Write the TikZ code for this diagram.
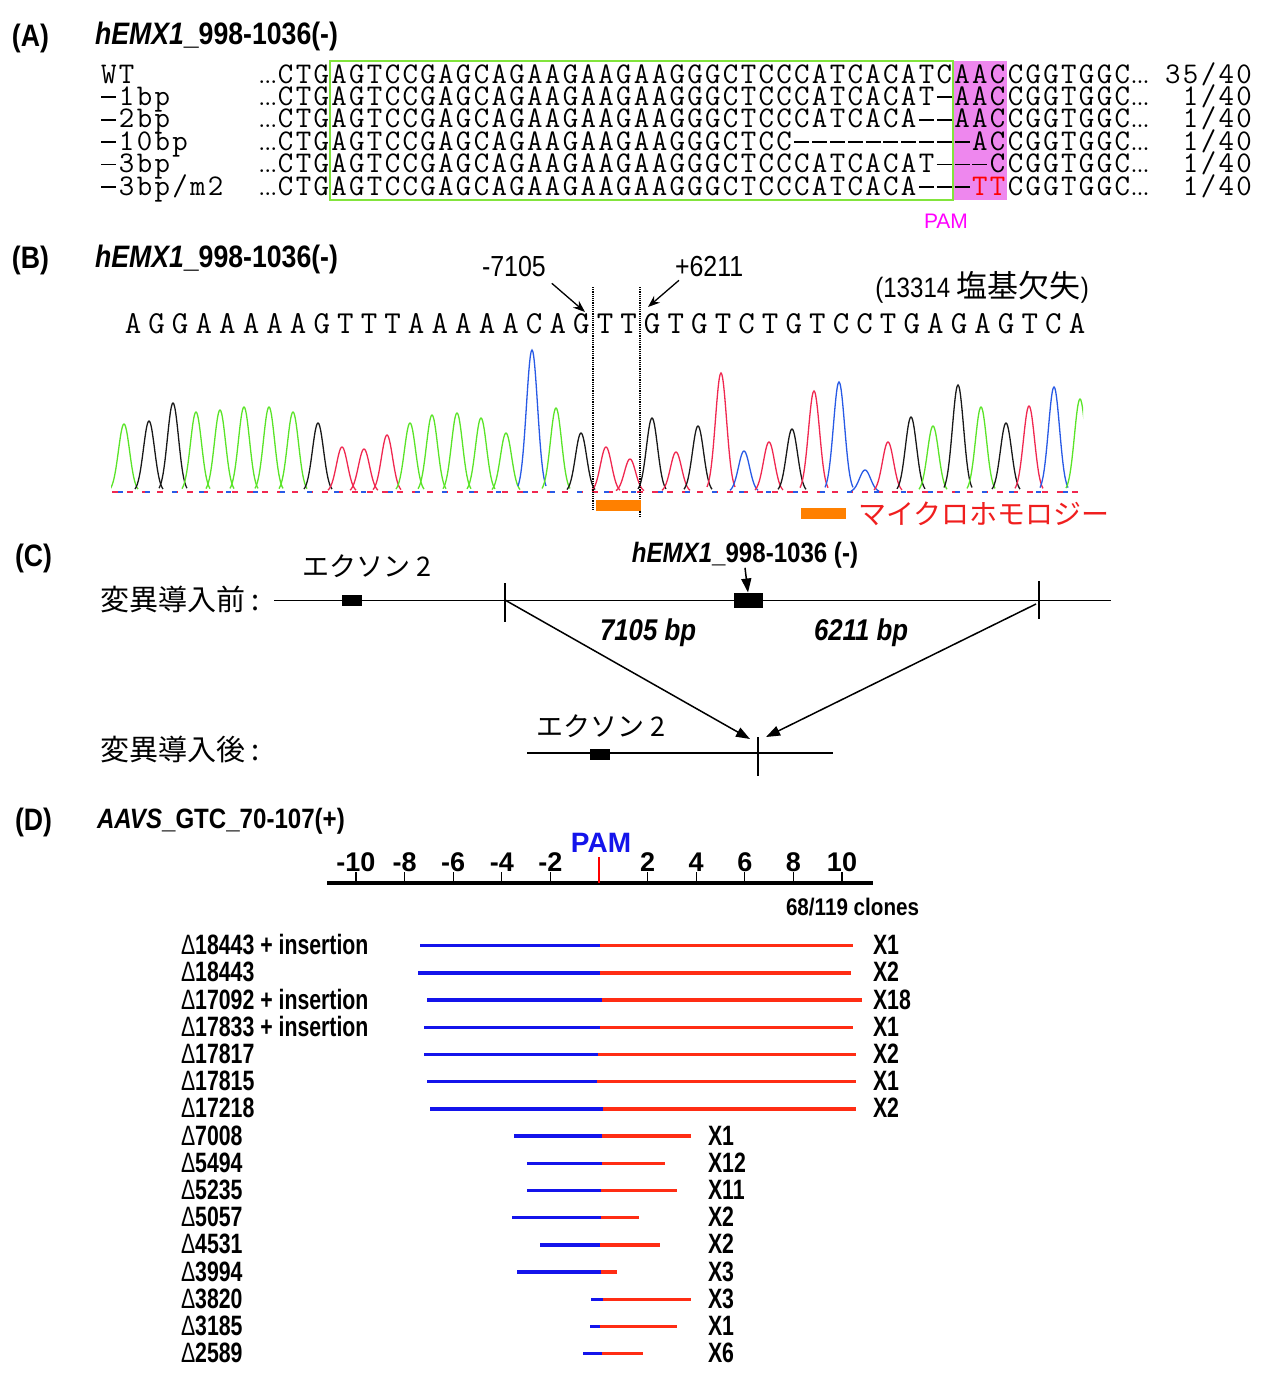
\documentclass[tikz,border=0pt]{standalone}
\usepackage{fontspec}
\usepackage{xcolor}
\usetikzlibrary{arrows.meta,positioning}
\newfontfamily\hf[FakeStretch=0.86]{Liberation Sans}
\newfontfamily\nf[FakeStretch=0.76]{Liberation Sans}
\newfontfamily\af{Liberation Sans}
\newfontfamily\jf{Noto Sans CJK JP}
\newcommand{\fsz}[1]{\fontsize{#1pt}{#1pt}\selectfont}
\definecolor{guidegreen}{RGB}{130,228,60}
\definecolor{pamfill}{RGB}{238,135,238}
\definecolor{pamtext}{RGB}{255,0,255}
\definecolor{trG}{RGB}{90,228,40}
\definecolor{trR}{RGB}{240,40,80}
\definecolor{trB}{RGB}{40,90,230}
\definecolor{trK}{RGB}{25,25,25}
\definecolor{mhorange}{RGB}{255,128,0}
\definecolor{mhred}{RGB}{240,30,30}
\definecolor{delblue}{RGB}{20,20,235}
\definecolor{delred}{RGB}{255,45,20}
% fixed-width cells for the aligned reads
\newlength{\cw}\setlength{\cw}{17.8pt}
\def\sqend{sqend}
\newcommand{\gp}{\rule[0.24em]{0.5em}{0.06em}}
\newcommand{\el}{{\rmfamily\bfseries\fsz{19}...}}
\newcommand{\sq}[1]{\sqi#1\sqend}
\def\sqi#1{\ifx#1\sqend\else\makebox[\cw][c]{\ifx-#1\gp\else#1\fi}\expandafter\sqi\fi}
\newcommand{\dl}{{\mdseries Δ}}
\tikzset{
  panel/.style={anchor=base west,font=\hf\bfseries\fsz{31}},
  title/.style={anchor=base west,font=\hf\bfseries\fsz{31}},
  seqrow/.style={anchor=base west,font=\ttfamily\fsz{30}},
  frac/.style={anchor=base east,font=\ttfamily\fsz{30}},
  readbase/.style={anchor=base,font=\ttfamily\fsz{32}},
  numlab/.style={anchor=base west,font=\hf\fsz{29}},
  jlab/.style={anchor=base west,font=\jf\fsz{29}},
  jsmall/.style={anchor=base west,font=\jf\fsz{27}},
  bplab/.style={anchor=base west,font=\hf\bfseries\itshape\fsz{30}},
  rowlab/.style={anchor=base west,font=\nf\bfseries\fsz{28}},
  axlab/.style={anchor=base,font=\af\bfseries\fsz{27}},
  trace/.style={line width=1.3pt},
  cutline/.style={line width=1.2pt,densely dotted},
  thinarrow/.style={line width=1.3pt,-{Stealth[length=12pt,width=9pt]}},
  bigarrow/.style={line width=1.5pt,-{Triangle[length=14pt,width=10pt]}},
  gene/.style={line width=1.8pt},
  exon/.style={fill=black,minimum width=20pt,minimum height=11pt},
  bluebar/.style={delblue,line width=3.5pt},
  redbar/.style={delred,line width=3.5pt}
}
\begin{document}
\begin{tikzpicture}[x=1pt,y=-1pt,every node/.append style={inner sep=0pt,outer sep=0pt}]
\fill[white] (0,0) rectangle (1280,1389);
\useasboundingbox (0,0) rectangle (1280,1389);

% (A) reads
\node[panel] (pA) at (12,47) {(A)};
\node[title] (tA) at (95,45) {\textit{hEMX1}\_998-1036(-)};
\fill[pamfill] (953,61) rectangle (1007,200);
\draw[guidegreen,line width=1.6pt] (330,61) rectangle (953,200);
\node[seqrow] (lWT) at (100,83) {\sq{WT}};
\node[seqrow] (rWT) at (259,83) {\sq{\el CTGAGTCCGAGCAGAAGAAGAAGGGCTCCCATCACATCAACCGGTGGC\el}};
\node[frac] (fWT) at (1253,83) {\sq{35/40}};
\node[seqrow] (l1) at (100,105.4) {\sq{-1bp}};
\node[seqrow] (r1) at (259,105.4) {\sq{\el CTGAGTCCGAGCAGAAGAAGAAGGGCTCCCATCACAT-AACCGGTGGC\el}};
\node[frac] (f1) at (1253,105.4) {\sq{1/40}};
\node[seqrow] (l2) at (100,127.8) {\sq{-2bp}};
\node[seqrow] (r2) at (259,127.8) {\sq{\el CTGAGTCCGAGCAGAAGAAGAAGGGCTCCCATCACA--AACCGGTGGC\el}};
\node[frac] (f2) at (1253,127.8) {\sq{1/40}};
\node[seqrow] (l10) at (100,150.2) {\sq{-10bp}};
\node[seqrow] (r10) at (259,150.2) {\sq{\el CTGAGTCCGAGCAGAAGAAGAAGGGCTCC----------ACCGGTGGC\el}};
\node[frac] (f10) at (1253,150.2) {\sq{1/40}};
\node[seqrow] (l3) at (100,172.6) {\sq{-3bp}};
\node[seqrow] (r3) at (259,172.6) {\sq{\el CTGAGTCCGAGCAGAAGAAGAAGGGCTCCCATCACAT---CCGGTGGC\el}};
\node[frac] (f3) at (1253,172.6) {\sq{1/40}};
\node[seqrow] (lm2) at (100,195) {\sq{-3bp/m2}};
\node[seqrow] (rm2) at (259,195) {\sq{\el CTGAGTCCGAGCAGAAGAAGAAGGGCTCCCATCACA---}\textcolor{red}{\sq{TT}}\sq{CGGTGGC\el}};
\node[frac] (fm2) at (1253,195) {\sq{1/40}};
\node[anchor=base,font=\af\fsz{21},pamtext] (pamA) at (946,228) {PAM};

% (B) junction read
\node[panel] (pB) at (12,268) {(B)};
\node[title] (tB) at (95,267) {\textit{hEMX1}\_998-1036(-)};
\node[numlab] (m7105) at (482,276) {-7105};
\node[numlab] (p6211) at (675,276) {+6211};
\node[anchor=base east] (del) at (1089,297) {\hf\fsz{28}(13314 {\jf\fsz{31}塩基欠失})};
\coordinate (jL) at (585,312);
\coordinate (jR) at (648,307);
\draw[thinarrow] ([shift={(6,7)}]m7105.south east) -- (jL);
\draw[thinarrow] ([shift={(4,4)}]p6211.south west) -- (jR);
\foreach \b [count=\i from 0] in {A,G,G,A,A,A,A,A,G,T,T,T,A,A,A,A,A,C,A,G,T,T,G,T,G,T,C,T,G,T,C,C,T,G,A,G,A,G,T,C,A}
  \node[readbase] (s\i) at ({133+23.6*\i},333) {\b};
\begin{scope}
\clip (111,330) rectangle (1083,500);
\draw[trR,line width=1.2pt,dash pattern=on 6pt off 9pt] (112,492) -- (1082,492);
\draw[trB,line width=1.2pt,dash pattern=on 5pt off 22pt] (118,492) -- (1082,492);
\foreach \px/\py/\pc in {124/424/trG,149/421/trK,173/403/trK,196/412/trG,220/410/trG,244/407/trG,
  269/407/trG,293/412/trG,318/423/trK,342/447/trR,364/449/trR,387/435/trR,410/423/trG,
  432/415/trG,457/413/trG,481/418/trG,506/433/trG,532/350/trB,556/408/trG,581/433/trK,
  606/447/trR,630/459/trR,652/418/trK,676/452/trR,698/426/trK,721/373/trR,744/451/trB,
  769/442/trR,792/429/trK,814/391/trR,839/382/trB,865/470/trB,888/442/trR,911/417/trK,
  933/426/trG,958/385/trK,981/407/trG,1006/423/trK,1029/406/trR,1054/387/trB,1080/399/trG}
  \draw[trace,\pc] plot[domain=\px-14:\px+14,samples=35,smooth]
    (\x,{492-(492-\py)*exp(-(\x-\px)*(\x-\px)/62)});
\end{scope}
\draw[cutline] (593,287) -- (593,511);
\draw[cutline] (640,287) -- (640,517);
\fill[mhorange] (596,500) rectangle (641,511);
\node[fill=mhorange,minimum width=45pt,minimum height=11pt] (mhkey) at (823.5,513.5) {};
\node[right=12pt of mhkey,font=\jf\fsz{28},text=mhred] (mh) {マイクロホモロジー};

% (C) deletion map
\node[panel] (pC) at (15,566) {(C)};
\node[anchor=base,font=\hf\bfseries\fsz{28}] (tC) at (745,562) {\textit{hEMX1}\_998-1036 (-)};
\node[jsmall] (ex1lab) at (302,576) {エクソン 2};
\node[jlab] (before) at (100,610) {変異導入前 :};
\draw[gene] (274,600.5) -- (1111,600.5);
\node[exon] (ex1) at (352,600.5) {};
\node[exon,minimum width=29pt,minimum height=15pt] (tg) at (748,600) {};
\draw[bigarrow] (tC.south) -- (tg.north);
\draw[line width=1.5pt] (505,583) -- (505,622);
\draw[line width=1.5pt] (1039,581) -- (1039,619);
\node[bplab] (bp1) at (600,640) {7105 bp};
\node[bplab] (bp2) at (814,640) {6211 bp};
\coordinate (cutL) at (505,600);
\coordinate (cutR) at (1036,604);
\coordinate (joinL) at (750,739);
\coordinate (joinR) at (766,737);
\draw[bigarrow] (cutL) -- (joinL);
\draw[bigarrow] (cutR) -- (joinR);
\node[jsmall] (ex2lab) at (536,736) {エクソン 2};
\node[jlab] (after) at (100,760) {変異導入後 :};
\draw[gene] (527,752.7) -- (833,752.7);
\node[exon] (ex2) at (600,754) {};
\draw[line width=1.5pt] (758,737) -- (758,776);

% (D) deletion sizes
\node[panel] (pD) at (15,830) {(D)};
\node[anchor=base west,font=\hf\bfseries\fsz{28}] (tD) at (97,828) {\textit{AAVS}\_GTC\_70-107(+)};
\draw[line width=3.5pt] (327,883) -- (873,883);
\foreach \k in {-10,-8,...,10}{
  \ifnum\k=0\else
    \draw[line width=1.3pt] ({599+24.3*\k},872) -- ({599+24.3*\k},883);
    \node[axlab] (ax\k) at ({599+24.3*\k},871) {\k};
  \fi}
\draw[red,line width=1.5pt] (599,857) -- (599,883);
\node[axlab,text=delblue,font=\af\bfseries\fsz{28}] (pamD) at (601,852) {PAM};
\node[anchor=base west,font=\hf\bfseries\fsz{24}] (clones) at (786,915) {68/119 clones};
\foreach \a/\b/\c/\lab/\cnt/\xc [count=\i from 0] in {
  420/600/853/{\dl18443 + insertion}/X1/873,
  418/600/851/{\dl18443}/X2/873,
  427/602/862/{\dl17092 + insertion}/X18/873,
  424/600/853/{\dl17833 + insertion}/X1/873,
  424/598/856/{\dl17817}/X2/873,
  427/597/856/{\dl17815}/X1/873,
  430/603/856/{\dl17218}/X2/873,
  514/602/691/{\dl7008}/X1/708,
  527/602/665/{\dl5494}/X12/708,
  527/601/677/{\dl5235}/X11/708,
  512/601/639/{\dl5057}/X2/708,
  540/600/660/{\dl4531}/X2/708,
  517/601/617/{\dl3994}/X3/708,
  591/603/691/{\dl3820}/X3/708,
  590/600/677/{\dl3185}/X1/708,
  583/602/643/{\dl2589}/X6/708}{
  \pgfmathsetmacro\ry{945.7+27.2*\i}
  \draw[bluebar] (\a,\ry) -- (\b,\ry);
  \draw[redbar] (\b,\ry) -- (\c,\ry);
  \node[rowlab] (d\i) at (181,\ry+9) {\lab};
  \node[rowlab] (n\i) at (\xc,\ry+9) {\cnt};
}
\end{tikzpicture}
\end{document}
